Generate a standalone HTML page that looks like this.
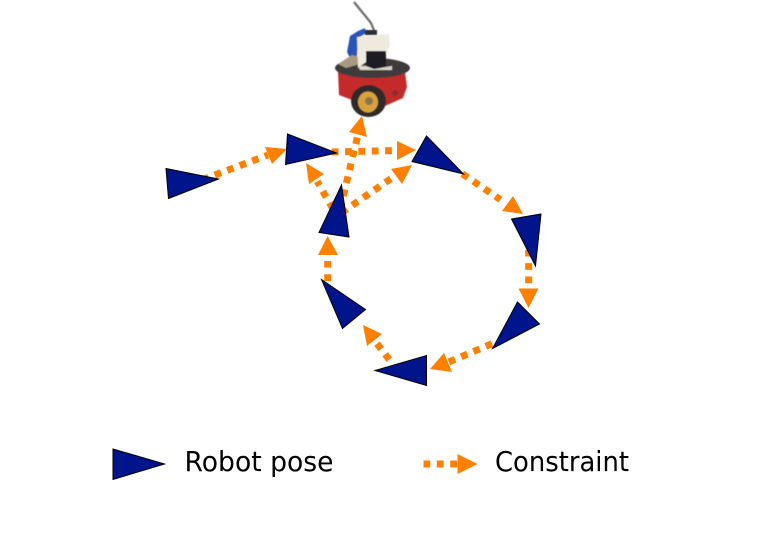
<!DOCTYPE html>
<html><head><meta charset="utf-8"><style>
html,body{margin:0;padding:0;background:#fff;width:759px;height:539px;overflow:hidden}
svg{display:block}
text{font-family:"DejaVu Sans","Liberation Sans",sans-serif;font-size:28px;fill:#000}
.d{stroke:#ff8000;stroke-width:7;stroke-dasharray:6.8 6.55;fill:none}
.h{fill:#ff8000}
.t{fill:#00148c;stroke:#000;stroke-width:1}
</style></head><body>
<svg width="759" height="539" viewBox="0 0 759 539" xmlns="http://www.w3.org/2000/svg">
<defs><filter id="b" x="-10%" y="-10%" width="120%" height="120%"><feGaussianBlur stdDeviation="0.6"/></filter></defs>

<!-- robot -->
<g filter="url(#b)">
<path d="M354 2L371 23L375 33" stroke="#6a6a6a" stroke-width="2.2" fill="none"/>
<path d="M338 72L405 72L407 87L403 98L385 106L352 100L339 95Z" fill="#c42a2c"/>
<ellipse cx="372.5" cy="68" rx="37.5" ry="10" fill="#3c3a3a"/>
<path d="M347 52L350 36L358 31L365 28L366 33L358 38L357 56L350 58Z" fill="#2a55b8"/>
<path d="M338 64L352 55L362 58L360 64L346 68Z" fill="#a89a80"/>
<path d="M357 37L389 34L390 46L386 54L366 54L366 62L358 68Z" fill="#eeeade"/>
<rect x="366" y="51" width="20" height="18" fill="#1e1d20"/>
<path d="M358 66L366 66L374 69L392 66L392 70L360 70Z" fill="#d9d5c8"/>
<rect x="365" y="30" width="12" height="5" fill="#2e2e30"/>
<ellipse cx="368.5" cy="101" rx="17.5" ry="16" fill="#2e2c2c"/>
<ellipse cx="368" cy="102" rx="10" ry="10.5" fill="#d9a13c"/>
<ellipse cx="369" cy="101" rx="4" ry="4" fill="#8a7448"/>
<circle cx="395" cy="93" r="3" fill="#8d2a2a"/>
</g>

<!-- arrows -->
<line class="d" x1="202.2" y1="179.8" x2="268" y2="155"/>
<polygon class="h" points="287,149 265,147 272,164"/>

<line class="d" x1="331.7" y1="152" x2="392" y2="150.6"/>
<polygon class="h" points="416,150 397,141 397,160"/>

<line class="d" x1="340.1" y1="209" x2="357.5" y2="136.8"/>
<polygon class="h" points="362,116 349,132 367,137"/>

<line class="d" x1="332.8" y1="208.7" x2="317.2" y2="181.3"/>
<polygon class="h" points="306,163 324,174 309,184"/>

<line class="d" x1="341.3" y1="212.8" x2="390.7" y2="178.8"/>
<polygon class="h" points="412,165 391,169 402,184"/>

<line class="d" x1="462.3" y1="173.8" x2="500.4" y2="199.6"/>
<polygon class="h" points="523,214 513,196 502,211"/>

<line class="d" x1="528.7" y1="249.75" x2="528.7" y2="283.5"/>
<polygon class="h" points="528.5,308 518.5,288.5 538.5,288.5"/>

<line class="d" x1="492" y1="343.75" x2="448.7" y2="362"/>
<polygon class="h" points="430,369 444,353 452,372"/>

<line class="d" x1="389.3" y1="359.6" x2="377" y2="343.7"/>
<polygon class="h" points="363,325 382,334 367,346"/>

<line class="d" x1="327.7" y1="281" x2="327.7" y2="261"/>
<polygon class="h" points="327.7,236 318,255 338,255"/>

<!-- poses -->
<polygon class="t" points="166,168.5 218.5,179 168.5,198.5"/>
<polygon class="t" points="287.5,134 336.5,153 285.5,164.5"/>
<polygon class="t" points="341.5,185 349,237 319,232.5"/>
<polygon class="t" points="426.5,136 463.5,174 412,161.5"/>
<polygon class="t" points="511.5,219 541,214 535.5,266"/>
<polygon class="t" points="517.5,302 539.5,324 492.5,348.5"/>
<polygon class="t" points="375,370.5 426.5,355.5 426.5,385.5"/>
<polygon class="t" points="321.5,279.5 365.5,309.5 342.5,328.5"/>

<!-- legend -->
<polygon class="t" points="113,449 164.5,464 113,479.5"/>
<text x="184.5" y="471" textLength="149" lengthAdjust="spacingAndGlyphs">Robot pose</text>
<line class="d" x1="423.5" y1="464" x2="457" y2="464"/>
<polygon class="h" points="477.5,464 457.5,454 457.5,474"/>
<text x="495" y="471" textLength="134" lengthAdjust="spacingAndGlyphs">Constraint</text>
</svg>
</body></html>
